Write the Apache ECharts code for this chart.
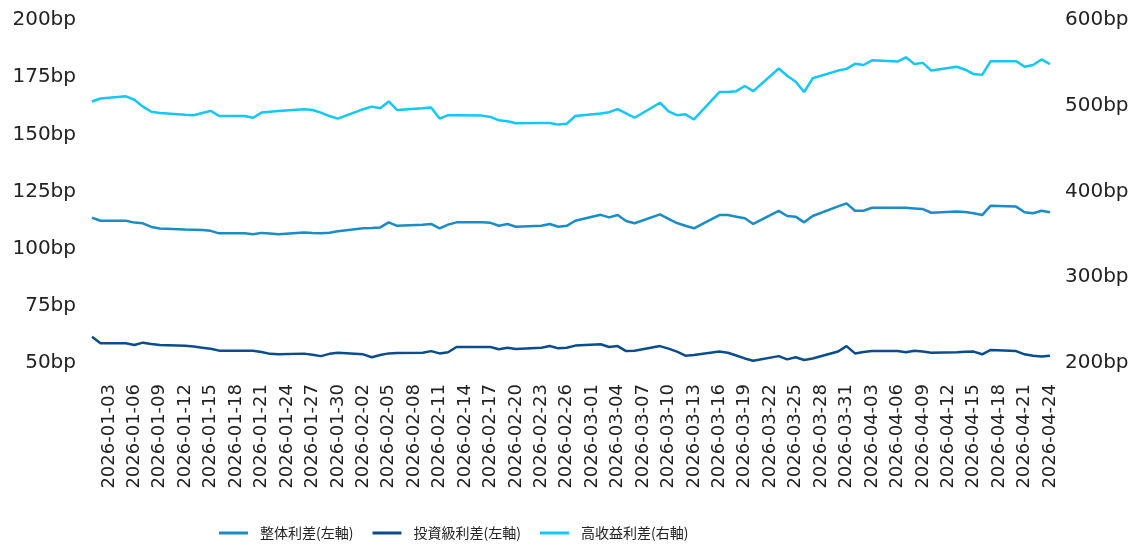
<!DOCTYPE html>
<html>
<head>
<meta charset="utf-8">
<script src="https://cdn.jsdelivr.net/npm/echarts@6/dist/echarts.min.js"></script>
<style>
  html, body { margin: 0; padding: 0; background: #fff; }
  #main { width: 1140px; height: 547px; }
</style>
</head>
<body>
<div id="main"></div>
<script>
// calendar days shown on the axis, 2026-01-01 .. 2026-04-24
const firstDay = Date.UTC(2026, 0, 1);
const dayCount = 114;
const days = [];
for (let i = 0; i < dayCount; i++) {
    days.push(new Date(firstDay + i * 86400000).toISOString().slice(0, 10));
}
// trading days (weekdays) that carry a value
const tradeDays = days.filter(function (d) {
    const w = new Date(d + 'T00:00:00Z').getUTCDay();
    return w !== 0 && w !== 6;
});

const seriesNames = ['整体利差(左軸)', '投資級利差(左軸)', '高收益利差(右軸)'];

const allSpread = [113.6, 112.2,
    112.2, 111.4, 111.1, 109.5, 108.8,
    108.4, 108.3, 108.2, 107.8, 106.7,
    106.7, 106.3, 106.9, 106.6, 106.3,
    107.1, 106.8, 106.7, 107.0, 107.6,
    108.9, 109.0, 109.3, 111.5, 110.0,
    110.5, 110.8, 108.9, 110.5, 111.5,
    111.5, 111.3, 110.0, 110.8, 109.6,
    110.0, 110.8, 109.6, 110.0, 112.2,
    114.8, 113.7, 114.7, 112.1, 111.1,
    115.0, 113.0, 111.2, 110.0, 108.9,
    114.7, 114.7, 114.0, 113.3, 110.8,
    116.5, 114.3, 114.0, 111.5, 114.3,
    118.5, 119.8, 116.6, 116.6, 117.9,
    117.9, 117.9, 117.6, 117.3, 115.7,
    116.2, 116.0, 115.5, 114.7, 118.8,
    118.4, 115.9, 115.5, 116.6, 115.9];

const igSpread = [61.5, 58.6,
    58.6, 57.9, 58.9, 58.3, 57.9,
    57.5, 57.2, 56.7, 56.2, 55.4,
    55.4, 55.4, 54.8, 54.0, 53.8,
    54.1, 53.6, 53.0, 54.0, 54.5,
    53.8, 52.5, 53.5, 54.2, 54.4,
    54.5, 55.2, 54.2, 54.7, 57.0,
    57.0, 57.0, 56.0, 56.7, 56.1,
    56.7, 57.4, 56.4, 56.7, 57.6,
    58.2, 57.0, 57.4, 55.2, 55.4,
    57.4, 56.3, 55.0, 53.2, 53.5,
    55.0, 54.5, 53.3, 52.0, 51.0,
    53.0, 51.6, 52.5, 51.3, 52.0,
    55.0, 57.4, 54.2, 54.8, 55.2,
    55.2, 54.7, 55.4, 55.0, 54.5,
    54.7, 54.9, 55.0, 53.8, 55.7,
    55.2, 53.8, 53.2, 52.8, 53.2];

const hySpread = [505, 508.5,
    511, 507, 499, 493, 491.5,
    489.5, 489, 491.5, 494, 488,
    488, 486, 492, 493, 494,
    496, 495, 492, 488, 485,
    496, 499, 497, 505, 495,
    497, 498, 485, 489, 489,
    488.5, 487, 483, 482, 479.5,
    480, 480, 478, 479, 488,
    491, 492.5, 496, 491, 486,
    503.5, 493.5, 489, 490, 484,
    516, 516, 517, 523, 517,
    543.5, 535, 528, 516, 532,
    541, 543, 549, 547.5, 553,
    551.5, 556.5, 548.7, 550, 541,
    545.5, 542, 537, 536, 552,
    552, 545.5, 547.5, 554, 548.5];

const leftTicks = { min: 50, max: 200, interval: 25 };
const rightTicks = { min: 200, max: 600, interval: 100 };
const colors = ['#1a8cc6', '#0b4d8c', '#12c8f8'];

function pairs(values) {
    return tradeDays.map(function (d, i) { return [d, values[i]]; });
}

const chart = echarts.init(document.getElementById('main'));
const axisFont = { fontFamily: 'DejaVu Sans', fontSize: 20, color: '#222' };

chart.setOption({
    animation: false,
    color: colors,
    grid: { left: 92, right: 90, top: 20, bottom: 184 },
    legend: {
        data: seriesNames,
        left: 214,
        top: 521,
        icon: 'rect',
        itemWidth: 29,
        itemHeight: 3,
        itemGap: 19,
        textStyle: {
            fontFamily: 'Noto Sans CJK JP',
            fontSize: 14,
            color: '#222',
            padding: [0, 0, 0, 7]
        }
    },
    xAxis: {
        type: 'category',
        data: days,
        boundaryGap: false,
        axisLine: { show: false },
        axisTick: { show: false },
        splitLine: { show: false },
        axisLabel: {
            rotate: 90,
            margin: 21,
            fontFamily: 'DejaVu Sans',
            fontSize: 18,
            color: '#222',
            interval: function (idx) { return idx % 3 === 2; }
        }
    },
    yAxis: [
        {
            type: 'value',
            min: leftTicks.min,
            max: leftTicks.max,
            interval: leftTicks.interval,
            axisLine: { show: false },
            axisTick: { show: false },
            splitLine: { show: false },
            axisLabel: Object.assign({ margin: 16, formatter: '{value}bp' }, axisFont)
        },
        {
            type: 'value',
            min: rightTicks.min,
            max: rightTicks.max,
            interval: rightTicks.interval,
            axisLine: { show: false },
            axisTick: { show: false },
            splitLine: { show: false },
            axisLabel: Object.assign({ margin: 15, formatter: '{value}bp' }, axisFont)
        }
    ],
    series: [
        {
            name: seriesNames[0],
            type: 'line',
            yAxisIndex: 0,
            showSymbol: false,
            lineStyle: { width: 2.5 },
            data: pairs(allSpread)
        },
        {
            name: seriesNames[1],
            type: 'line',
            yAxisIndex: 0,
            showSymbol: false,
            lineStyle: { width: 2.5 },
            data: pairs(igSpread)
        },
        {
            name: seriesNames[2],
            type: 'line',
            yAxisIndex: 1,
            showSymbol: false,
            lineStyle: { width: 2.5 },
            data: pairs(hySpread)
        }
    ]
});
</script>
</body>
</html>
